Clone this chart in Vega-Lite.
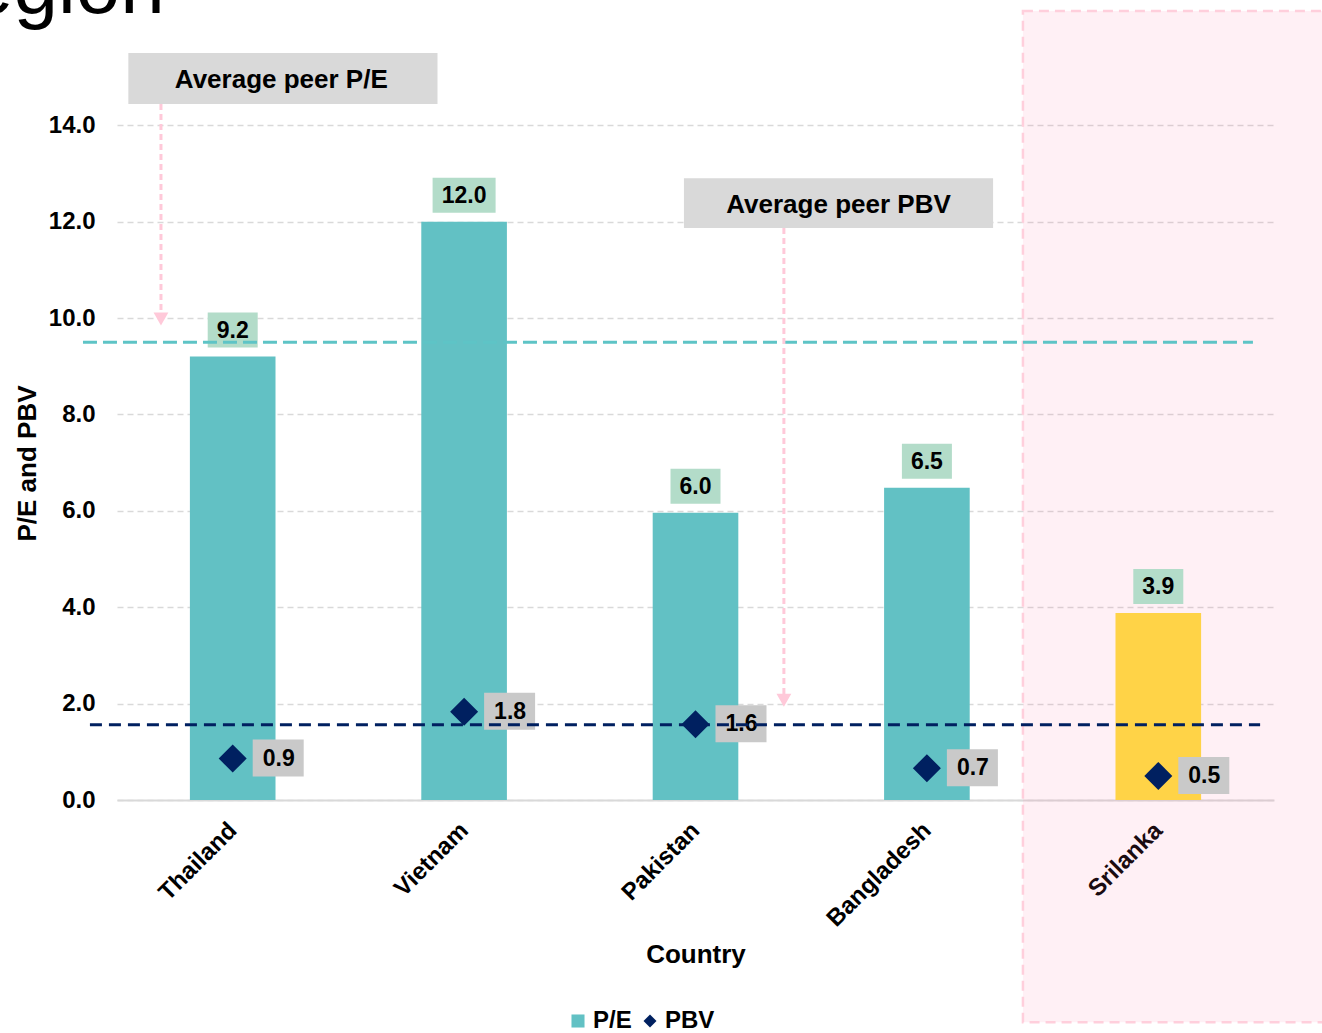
{
  "$schema": "https://vega.github.io/schema/vega-lite/v6.json",
  "width": 1157,
  "height": 747,
  "autosize": {"type": "none"},
  "padding": {"left": 117, "top": 53, "right": 48, "bottom": 233},
  "background": "white",
  "config": {
    "view": {"stroke": null},
    "font": "Liberation Sans",
    "legend": {"orient": "none", "legendX": 449, "legendY": 956, "direction": "horizontal", "title": null, "labelFontSize": 24, "labelFontWeight": "bold", "labelColor": "black", "symbolSize": 170, "columnPadding": 6, "labelOffset": 3, "symbolStrokeWidth": 0, "symbolOpacity": 1}
  },
  "datasets": {
    "countries": [
      {"Country": "Thailand", "PE": 9.2, "PBV": 0.86},
      {"Country": "Vietnam", "PE": 12.0, "PBV": 1.83},
      {"Country": "Pakistan", "PE": 5.96, "PBV": 1.57},
      {"Country": "Bangladesh", "PE": 6.48, "PBV": 0.66},
      {"Country": "Srilanka", "PE": 3.88, "PBV": 0.5}
    ]
  },
  "resolve": {"scale": {"x": "independent"}},
  "layer": [
    {
      "data": {"values": [{}]},
      "mark": {"type": "rect", "fill": "#ff6f9f", "fillOpacity": 0.1, "stroke": "#ffcfdc", "strokeWidth": 2.5, "strokeDash": [10, 6]},
      "encoding": {
        "x": {"datum": 3.915, "type": "quantitative", "scale": {"domain": [0, 5], "nice": false, "zero": false}, "axis": null},
        "x2": {"datum": 5.5},
        "y": {"datum": 16.37, "type": "quantitative", "scale": {"domain": [0, 15.5], "nice": false}},
        "y2": {"datum": -4.61}
      }
    },
    {
      "data": {"name": "countries"},
      "encoding": {
        "x": {
          "field": "Country", "type": "nominal", "sort": null,
          "scale": {"paddingInner": 0.63, "paddingOuter": 0.315},
          "axis": {"title": "Country", "labelAngle": -45, "labelFontSize": 24, "labelFontWeight": "bold", "labelColor": "black", "ticks": false, "domainColor": "#d9d9d9", "domainWidth": 2, "labelPadding": 18, "labelOffset": -8, "titleFontSize": 26, "titleFontWeight": "bold", "titleColor": "black", "titlePadding": 10, "grid": false}
        }
      },
      "layer": [
        {
          "mark": {"type": "bar"},
          "encoding": {
            "y": {"field": "PE", "type": "quantitative", "title": "P/E and PBV", "scale": {"domain": [0, 15.5], "nice": false},
              "axis": {"values": [0, 2, 4, 6, 8, 10, 12, 14], "format": ".1f", "title": "P/E and PBV", "grid": true, "gridDash": [6, 4], "gridColor": "#d9d9d9", "gridWidth": 1.5, "domain": false, "ticks": false, "labelFontSize": 24, "labelFontWeight": "bold", "labelColor": "black", "labelPadding": 22, "titleFontSize": 26, "titleFontWeight": "bold", "titleColor": "black", "titlePadding": 8, "titleY": 410}},
            "color": {
              "datum": "P/E", "type": "nominal",
              "scale": {"domain": ["P/E", "PBV"], "range": ["#62c1c4", "#002060"]},
              "condition": {"test": "datum.Country === 'Srilanka'", "value": "#ffd347"}
            }
          }
        },
        {
          "mark": {"type": "point", "filled": true, "opacity": 1, "fill": "#b3dcc9", "strokeWidth": 0, "size": 2500},
          "encoding": {
            "y": {"field": "PE", "type": "quantitative", "title": "P/E and PBV"},
            "shape": {"condition": {"test": "datum.PE >= 9.995", "value": "M-1.26,-1.76H1.26V-0.36H-1.26Z"}, "value": "M-1,-1.76H1V-0.36H-1Z"}
          }
        },
        {
          "mark": {"type": "text", "dy": -26, "baseline": "middle", "fontSize": 23, "fontWeight": "bold", "color": "black"},
          "encoding": {
            "y": {"field": "PE", "type": "quantitative", "title": "P/E and PBV"},
            "text": {"field": "PE", "type": "quantitative", "format": ".1f"}
          }
        },
        {
          "mark": {"type": "point", "filled": true, "opacity": 1, "fill": "#c9c9c9", "strokeWidth": 0, "size": 2500, "shape": "M0.8,-0.76H2.84V0.72H0.8Z"},
          "encoding": {
            "y": {"field": "PBV", "type": "quantitative", "title": "P/E and PBV"}
          }
        },
        {
          "mark": {"type": "text", "dx": 46, "baseline": "middle", "fontSize": 23, "fontWeight": "bold", "color": "black"},
          "encoding": {
            "y": {"field": "PBV", "type": "quantitative", "title": "P/E and PBV"},
            "text": {"field": "PBV", "type": "quantitative", "format": ".1f"}
          }
        }
      ]
    },
    {
      "data": {"values": [{}]},
      "encoding": {
        "x": {"type": "quantitative", "scale": {"domain": [0, 5], "nice": false, "zero": false}, "axis": null}
      },
      "layer": [
        {
          "mark": {"type": "rule", "color": "#5ec4c6", "strokeWidth": 3, "strokeDash": [14, 6]},
          "encoding": {"x": {"datum": -0.147, "type": "quantitative"}, "x2": {"datum": 4.909}, "y": {"datum": 9.5, "type": "quantitative"}}
        },
        {
          "mark": {"type": "rule", "color": "#002060", "strokeWidth": 3, "strokeDash": [12, 7]},
          "encoding": {"x": {"datum": -0.117, "type": "quantitative"}, "x2": {"datum": 4.94}, "y": {"datum": 1.56, "type": "quantitative"}}
        },
        {
          "mark": {"type": "rect", "fill": "#d9d9d9"},
          "encoding": {"x": {"datum": 0.049, "type": "quantitative"}, "x2": {"datum": 1.385}, "y": {"datum": 14.44, "type": "quantitative"}, "y2": {"datum": 15.5}}
        },
        {
          "mark": {"type": "text", "text": "Average peer P/E", "fontSize": 26, "fontWeight": "bold", "color": "black", "baseline": "middle", "align": "center"},
          "encoding": {"x": {"datum": 0.71, "type": "quantitative"}, "y": {"datum": 14.93, "type": "quantitative"}}
        },
        {
          "mark": {"type": "rect", "fill": "#d9d9d9"},
          "encoding": {"x": {"datum": 2.45, "type": "quantitative"}, "x2": {"datum": 3.786}, "y": {"datum": 11.87, "type": "quantitative"}, "y2": {"datum": 12.9}}
        },
        {
          "mark": {"type": "text", "text": "Average peer PBV", "fontSize": 26, "fontWeight": "bold", "color": "black", "baseline": "middle", "align": "center"},
          "encoding": {"x": {"datum": 3.118, "type": "quantitative"}, "y": {"datum": 12.35, "type": "quantitative"}}
        },
        {
          "mark": {"type": "rule", "color": "#ffc9d9", "strokeWidth": 3, "strokeDash": [6, 4]},
          "encoding": {"x": {"datum": 0.19, "type": "quantitative"}, "y": {"datum": 14.44, "type": "quantitative"}, "y2": {"datum": 10.1}}
        },
        {
          "mark": {"type": "point", "shape": "triangle-down", "filled": true, "opacity": 1, "color": "#ffc9d9", "size": 220},
          "encoding": {"x": {"datum": 0.19, "type": "quantitative"}, "y": {"datum": 9.98, "type": "quantitative"}}
        },
        {
          "mark": {"type": "rule", "color": "#ffc9d9", "strokeWidth": 3, "strokeDash": [6, 4]},
          "encoding": {"x": {"datum": 2.882, "type": "quantitative"}, "y": {"datum": 11.87, "type": "quantitative"}, "y2": {"datum": 2.2}}
        },
        {
          "mark": {"type": "point", "shape": "triangle-down", "filled": true, "opacity": 1, "color": "#ffc9d9", "size": 220},
          "encoding": {"x": {"datum": 2.882, "type": "quantitative"}, "y": {"datum": 2.07, "type": "quantitative"}}
        },
        {
          "mark": {"type": "text", "text": "egion", "fontSize": 80, "color": "black", "baseline": "alphabetic", "align": "left"},
          "encoding": {"x": {"datum": -0.64, "type": "quantitative"}, "y": {"datum": 16.33, "type": "quantitative"}}
        }
      ]
    },
    {
      "data": {"name": "countries"},
      "mark": {"type": "point", "filled": true, "opacity": 1, "size": 784},
      "encoding": {
        "x": {"field": "Country", "type": "nominal", "sort": null, "scale": {"paddingInner": 0.63, "paddingOuter": 0.315}, "axis": null},
        "y": {"field": "PBV", "type": "quantitative", "title": "P/E and PBV"},
        "color": {"datum": "PBV", "type": "nominal", "scale": {"domain": ["P/E", "PBV"], "range": ["#62c1c4", "#002060"]}},
        "shape": {"datum": "PBV", "type": "nominal", "scale": {"domain": ["P/E", "PBV"], "range": ["square", "diamond"]}}
      }
    }
  ]
}
